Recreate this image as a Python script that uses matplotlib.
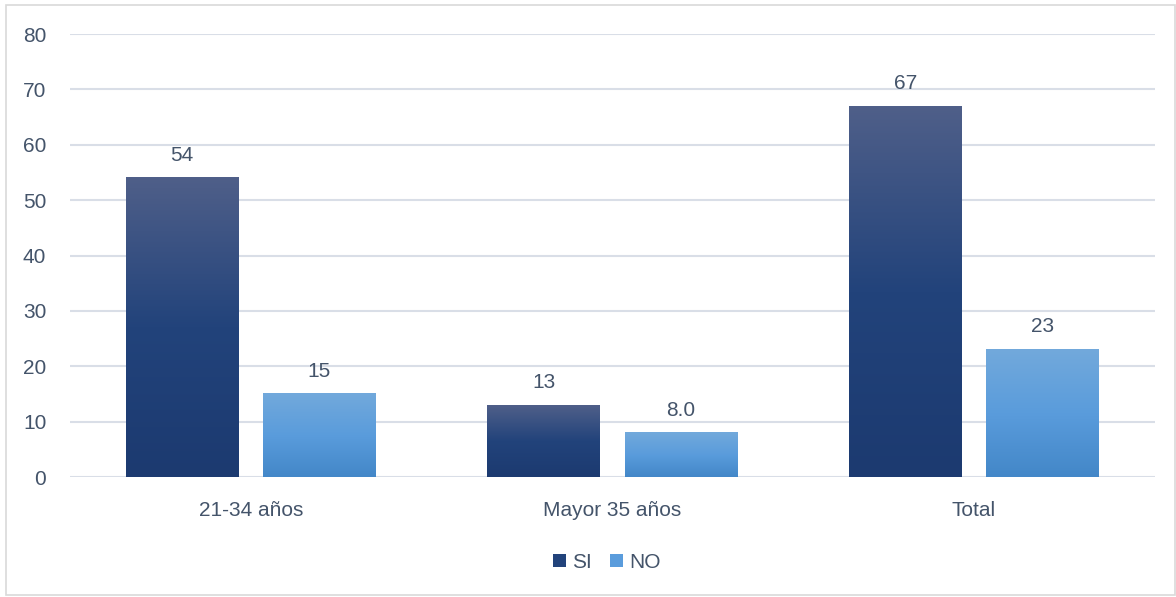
import matplotlib
matplotlib.use("Agg")
import matplotlib.pyplot as plt
import numpy as np
from matplotlib.colors import LinearSegmentedColormap
from matplotlib.patches import Rectangle

categories = ["21-34 años", "Mayor 35 años", "Total"]
si_vals = [54, 13, 67]
no_vals = [15, 8.0, 23]
series_names = ["SI", "NO"]

text_col = "#44546a"
grid_col = "#d9dee7"
# gradients bottom -> top
si_cmap = LinearSegmentedColormap.from_list("si", ["#1c3a70", "#22437b", "#4f5f89"])
no_cmap = LinearSegmentedColormap.from_list("no", ["#4387c8", "#5a9cdc", "#72a9db"])

plt.rcParams['font.family'] = ['Liberation Sans', 'DejaVu Sans']
fs = 15

fig = plt.figure(figsize=(11.76, 5.97), dpi=100)
ax = fig.add_axes([0.0595, 0.201, 0.9225, 0.742])

# outer chart border
fig.patches.append(Rectangle((0.005, 0.004), 0.994, 0.987, transform=fig.transFigure,
                             fill=False, edgecolor="#d9d9d9", linewidth=1.2))

x = np.arange(len(categories))
off = 0.19
w = 0.312
grad = np.linspace(0, 1, 256).reshape(-1, 1)

def fmt(v):
    return f"{v:.1f}" if v < 10 else f"{v:.0f}"

for vals, cmap, sign, name in [(si_vals, si_cmap, -1, series_names[0]),
                               (no_vals, no_cmap, 1, series_names[1])]:
    bars = ax.bar(x + sign * off, vals, w, color=cmap(0.5), label=name, zorder=2)
    for b, v in zip(bars, vals):
        x0 = b.get_x()
        ax.imshow(grad, extent=[x0, x0 + w, 0, v], origin="lower", cmap=cmap,
                  aspect="auto", zorder=3)
        ax.text(x0 + w / 2, v + 4.1, fmt(v), ha="center", va="center",
                fontsize=fs, color=text_col, zorder=4)

ax.set_xlim(-0.5, 2.5)
ax.set_ylim(0, 80)
ax.set_yticks(range(0, 81, 10))
ax.set_xticks(x)
ax.set_xticklabels(categories)
ax.yaxis.grid(True, color=grid_col, linewidth=1.5, zorder=0)
ax.set_axisbelow(True)
for s in ax.spines.values():
    s.set_visible(False)
ax.tick_params(axis="both", length=0, labelsize=fs, labelcolor=text_col)
ax.tick_params(axis="y", pad=17)
ax.tick_params(axis="x", pad=17)

leg = ax.legend(loc="center", bbox_to_anchor=(0.495, -0.192), ncol=2, frameon=False,
                fontsize=fs, handlelength=0.6, handleheight=0.6, handletextpad=0.3,
                columnspacing=0.9)
for t in leg.get_texts():
    t.set_color(text_col)

fig.savefig("out.png", dpi=100)
